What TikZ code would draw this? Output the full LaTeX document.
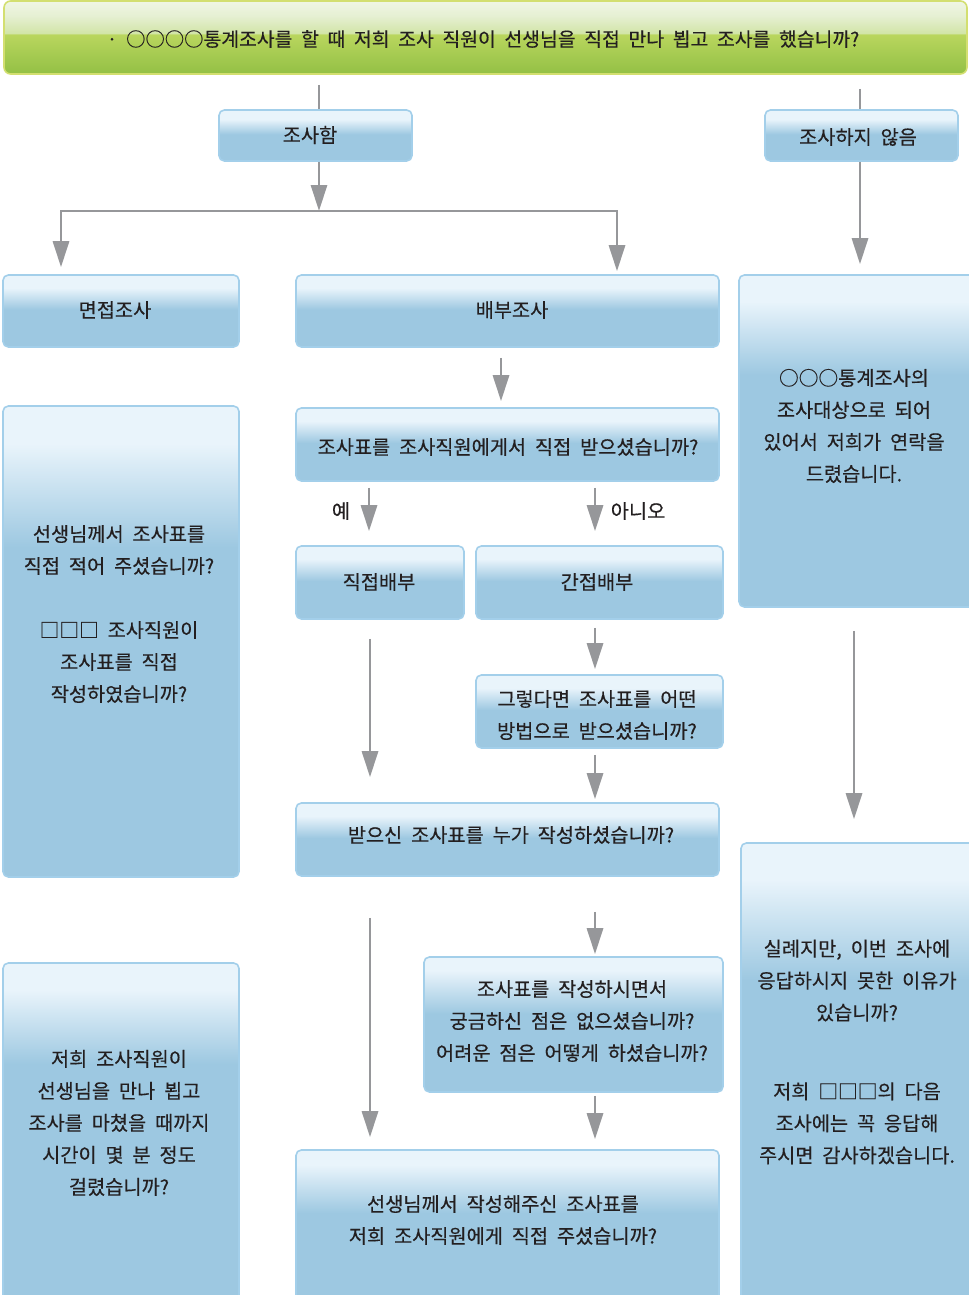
\documentclass[tikz,border=0pt]{standalone}
\usepackage{fontspec}
\setmainfont[WordSpace=2,FakeBold=0.3]{Noto Sans CJK KR}
\usetikzlibrary{arrows.meta,fit}
\definecolor{bblue}{HTML}{9DC8E1}
\definecolor{blight}{HTML}{E9F4FB}
\definecolor{bedge}{HTML}{A3CFEA}
\definecolor{agray}{HTML}{96979A}
\definecolor{tcol}{HTML}{231F20}
\definecolor{gtop}{HTML}{F0F6E4}
\definecolor{gup}{HTML}{E6F0D3}
\definecolor{gmid}{HTML}{D2E5A8}
\definecolor{gyel}{HTML}{B9D65E}
\definecolor{gbot}{HTML}{93C045}
\definecolor{gedge}{HTML}{D3DF70}
\pgfdeclareverticalshading{bxS}{100bp}{color(0bp)=(bblue); color(25bp)=(bblue); color(51bp)=(bblue); color(66bp)=(blight); color(75bp)=(blight); color(100bp)=(blight)}
\pgfdeclareverticalshading{bxM}{100bp}{color(0bp)=(bblue); color(25bp)=(bblue); color(54bp)=(bblue); color(70bp)=(blight); color(75bp)=(blight); color(100bp)=(blight)}
\pgfdeclareverticalshading{bxT}{100bp}{color(0bp)=(bblue); color(25bp)=(bblue); color(60bp)=(bblue); color(71bp)=(blight); color(75bp)=(blight); color(100bp)=(blight)}
\pgfdeclareverticalshading{bnr}{100bp}{color(0bp)=(gbot); color(25bp)=(gbot); color(52bp)=(gyel); color(53bp)=(gmid); color(65bp)=(gup); color(75bp)=(gtop); color(100bp)=(gtop)}
\newcommand\fs{\fontsize{14.8}{24}\selectfont}
\newcommand\fsb{\fontsize{14.5}{24}\selectfont}
\begin{document}
\begin{tikzpicture}[x=0.75pt,y=-0.75pt,
  box/.style={draw=bedge, line width=1.2pt, rounded corners=4pt, inner sep=0pt, shade, shading=bxS},
  boxM/.style={box, shading=bxM},
  boxT/.style={box, shading=bxT},
  banner/.style={draw=gedge, line width=1.2pt, rounded corners=5pt, inner sep=0pt, shade, shading=bnr},
  txt/.style={font=\fs, text=tcol, align=center, inner sep=0pt},
  ln/.style={draw=agray, line width=2.2pt},
  arr/.style={draw=agray, line width=2.2pt, -{Triangle[length=19.5pt,width=12pt]}}]
\useasboundingbox (0,0) rectangle (969,1295);
% columns
\coordinate (x61) at (61,0);
\coordinate (x319) at (319,0);
\coordinate (x369) at (369,0);
\coordinate (x370) at (370,0);
\coordinate (x501) at (501,0);
\coordinate (x595) at (595,0);
\coordinate (x617) at (617,0);
\coordinate (x854) at (854,0);
\coordinate (x860) at (860,0);
\coordinate (split) at (319,211);
% boxes
\node[banner, fit={(4,1) (967,74)}] (top) {};
\node[box, fit={(219,110) (412,161)}] (hb) {};
\node[box, fit={(765,110) (958,161)}] (nh) {};
\node[box, fit={(3,275) (239,347)}] (mj) {};
\node[box, fit={(296,275) (719,347)}] (bb) {};
\node[boxT, fit={(739,275) (975,607)}] (rb1) {};
\node[box, fit={(296,408) (719,481)}] (q1) {};
\node[box, fit={(296,546) (464,619)}] (d1) {};
\node[box, fit={(476,546) (723,619)}] (d2) {};
\node[boxT, fit={(3,406) (239,877)}] (lb1) {};
\node[box, fit={(476,675) (723,748)}] (q2) {};
\node[box, fit={(296,803) (719,876)}] (q3) {};
\node[boxT, fit={(741,843) (975,1300)}] (rb2) {};
\node[boxM, fit={(424,957) (723,1092)}] (q4) {};
\node[boxM, fit={(296,1150) (719,1300)}] (q5) {};
\node[boxT, fit={(3,963) (239,1300)}] (lb2) {};
% texts
\node[txt, font=\fsb] (ttop) at (483,39) {· ○○○○통계조사를 할 때 저희 조사 직원이 선생님을 직접 만나 뵙고 조사를 했습니까?};
\node[txt] (thb) at (310,135) {조사함};
\node[txt] (tnh) at (858,137) {조사하지 않음};
\node[txt] (tmj) at (115,310) {면접조사};
\node[txt] (tbb) at (512,310) {배부조사};
\node[txt] (trb1) at (854,426) {○○○통계조사의\\조사대상으로 되어\\있어서 저희가 연락을\\드렸습니다.};
\node[txt] (tq1) at (508,447) {조사표를 조사직원에게서 직접 받으셨습니까?};
\node[txt] (td1) at (379,582) {직접배부};
\node[txt] (td2) at (597,582) {간접배부};
\node[txt] (tlb1) at (119,614) {선생님께서 조사표를\\직접 적어 주셨습니까?\\[24pt]□□□ 조사직원이\\조사표를 직접\\작성하였습니까?};
\node[txt] (tq2) at (597,715) {그렇다면 조사표를 어떤\\방법으로 받으셨습니까?};
\node[txt] (tq3) at (511,835) {받으신 조사표를 누가 작성하셨습니까?};
\node[txt] (trb2) at (857,1052) {실례지만, 이번 조사에\\응답하시지 못한 이유가\\있습니까?\\[35pt]저희 □□□의 다음\\조사에는 꼭 응답해\\주시면 감사하겠습니다.};
\node[txt] (tq4) at (572,1021) {조사표를 작성하시면서\\궁금하신 점은 없으셨습니까?\\어려운 점은 어떻게 하셨습니까?};
\node[txt] (tq5) at (503,1220) {선생님께서 작성해주신 조사표를\\저희 조사직원에게 직접 주셨습니까?};
\node[txt] (tlb2) at (119,1123) {저희 조사직원이\\선생님을 만나 뵙고\\조사를 마쳤을 때까지\\시간이 몇 분 정도\\걸렸습니까?};
\node[txt] (yes) at (341,511) {예};
\node[txt] (no) at (638,511) {아니오};
% connectors
\draw[ln, shorten <=7.5pt] (top.south -| x319) -- (hb.north -| x319);
\draw[ln, shorten <=10.5pt] (top.south -| x860) -- (nh.north -| x860);
\draw[arr] (hb.south -| x319) -- (split);
\draw[arr, shorten >=5.25pt] (split) -| (mj.north -| x61);
\draw[arr, shorten >=2.25pt] (split) -| (bb.north -| x617);
\draw[arr, shorten >=7.5pt] (nh.south -| x860) -- (rb1.north -| x860);
\draw[arr, shorten <=7.5pt, shorten >=4.5pt] (bb.south -| x501) -- (q1.north -| x501);
\draw[arr, shorten <=4.5pt, shorten >=10.5pt] (q1.south -| x369) -- (d1.north -| x369);
\draw[arr, shorten <=4.5pt, shorten >=10.5pt] (q1.south -| x595) -- (d2.north -| x595);
\draw[arr, shorten <=6pt, shorten >=3.75pt] (d2.south -| x595) -- (q2.north -| x595);
\draw[arr, shorten <=14.25pt, shorten >=18.75pt] (d1.south -| x370) -- (q3.north -| x370);
\draw[arr, shorten <=4.5pt, shorten >=2.25pt] (q2.south -| x595) -- (q3.north -| x595);
\draw[arr, shorten <=17.25pt, shorten >=17.25pt] (rb1.south -| x854) -- (rb2.north -| x854);
\draw[arr, shorten <=30.75pt, shorten >=9pt] (q3.south -| x370) -- (q5.north -| x370);
\draw[arr, shorten <=26.25pt, shorten >=1.5pt] (q3.south -| x595) -- (q4.north -| x595);
\draw[arr, shorten <=2.25pt, shorten >=7.5pt] (q4.south -| x595) -- (q5.north -| x595);
\end{tikzpicture}
\end{document}
